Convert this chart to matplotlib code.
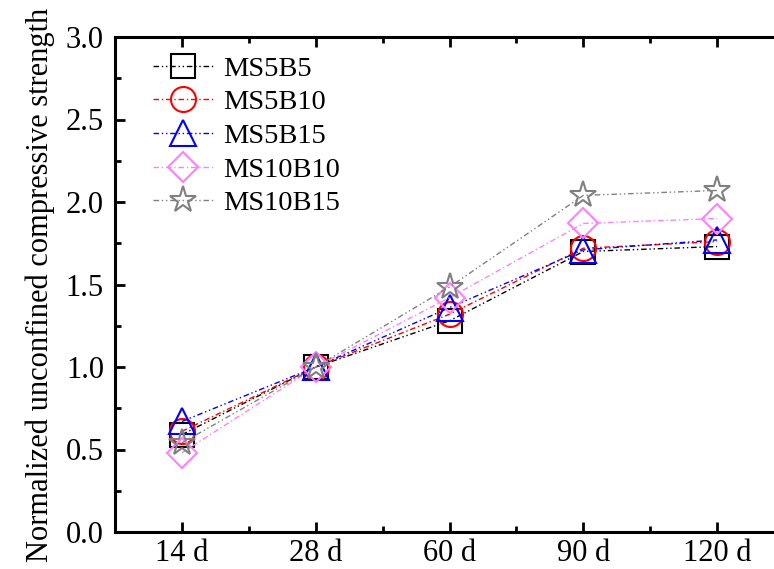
import numpy as np
import matplotlib.pyplot as plt
from matplotlib.ticker import MultipleLocator

plt.rcParams['font.family'] = ['Liberation Serif', 'DejaVu Serif']
plt.rcParams['mathtext.fontset'] = 'stix'

ages = ['14 d', '28 d', '60 d', '90 d', '120 d']
ms5b5 = [0.59, 1.00, 1.28, 1.70, 1.73]
ms5b10 = [0.61, 1.00, 1.32, 1.72, 1.76]
ms5b15 = [0.67, 1.00, 1.36, 1.71, 1.77]
ms10b10 = [0.48, 1.00, 1.42, 1.87, 1.90]
ms10b15 = [0.54, 1.00, 1.485, 2.04, 2.07]

x = np.arange(1, len(ages) + 1)

fig = plt.figure(figsize=(7.74, 5.69), dpi=100)
ax = fig.add_axes([115 / 774, 1 - 532 / 569, 669 / 774, 495 / 569])

series = [
    (ms5b5, 'MS5B5', 'black', 's', (0, (4, 2, 1, 2, 1, 2))),
    (ms5b10, 'MS5B10', 'red', 'o', (0, (4, 2, 1, 2))),
    (ms5b15, 'MS5B15', 'blue', '^', (0, (4, 2, 1, 2, 1, 2))),
    (ms10b10, 'MS10B10', '#ff80ff', 'D', (0, (4, 2, 1, 2))),
    (ms10b15, 'MS10B15', 'gray', '*', (0, (4, 2, 1, 2, 1, 2))),
]
sizes = {'s': 17, 'o': 18, '^': 19, 'D': 15, '*': 20}
for y, lab, c, m, ls in series:
    ax.plot(x, y, color=c, linestyle=ls, linewidth=1.0, marker=m,
            markersize=sizes[m], markerfacecolor='none', markeredgecolor=c,
            markeredgewidth=1.5, label=lab)

ax.set_xlim(0.5, 5.5)
ax.set_ylim(0, 3.0)
ax.set_xticks(x)
ax.set_xticklabels(ages)
ax.xaxis.set_minor_locator(MultipleLocator(0.5))
ax.yaxis.set_major_locator(MultipleLocator(0.5))
ax.yaxis.set_minor_locator(MultipleLocator(0.25))
ax.yaxis.set_major_formatter(plt.FormatStrFormatter('%.1f'))
ax.tick_params(which='both', direction='in', top=True, right=False,
               width=2, labelsize=22, pad=8)
ax.tick_params(axis='x', pad=5)
ax.tick_params(which='major', length=7)
ax.tick_params(which='minor', length=4)
for s in ['left', 'bottom', 'top']:
    ax.spines[s].set_linewidth(2.2)
ax.spines['right'].set_visible(False)

ax.set_ylabel('Normalized unconfined compressive strength', fontsize=22, labelpad=8)

ax.legend(loc='upper left', frameon=False, fontsize=20.5, handlelength=2.1,
          labelspacing=0.27, handletextpad=0.35, borderaxespad=0,
          bbox_to_anchor=(0.04, 0.985))

fig.savefig('out.png', dpi=100)
